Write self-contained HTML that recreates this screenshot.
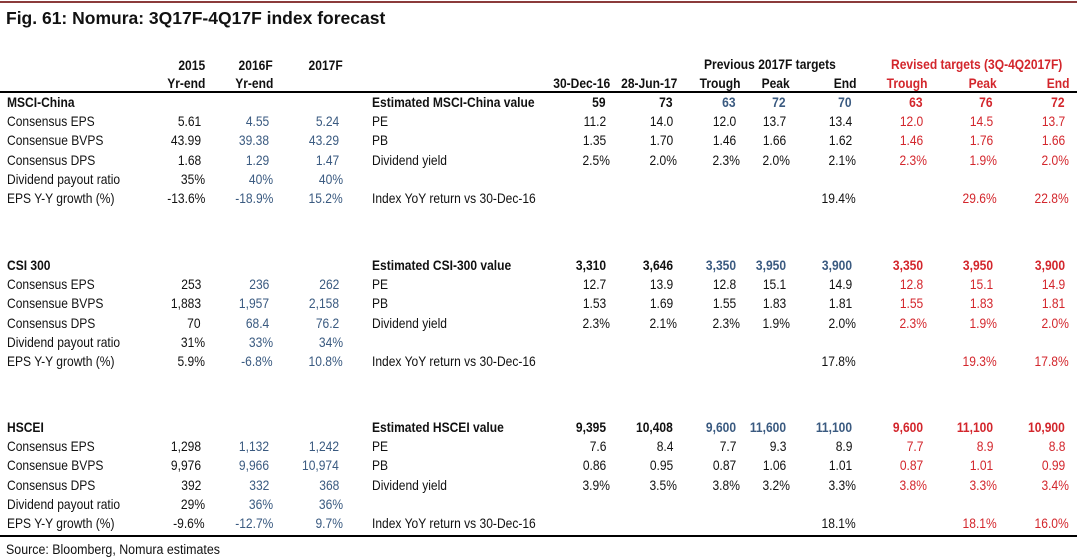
<!DOCTYPE html>
<html><head><meta charset="utf-8">
<style>
html,body{margin:0;padding:0;background:#fff;}
#root{position:relative;width:1077px;height:558px;overflow:hidden;font-family:"Liberation Sans",Arial,sans-serif;color:#111;}
.t{position:absolute;white-space:nowrap;font-size:14px;line-height:16px;transform:scaleX(0.86);}
.l{transform-origin:left center;}
.r{transform-origin:right center;}
.b{font-weight:bold;}
.blue{color:#3a5a80;}
.red{color:#d3262c;}
.hr{position:absolute;left:0;width:1077px;background:#000;}
</style></head>
<body>
<div id="root">
<div class="hr" style="top:1px;height:2px;background:#8b3b3b"></div>
<div style="position:absolute;left:6px;top:8px;font-size:17.5px;font-weight:bold;white-space:nowrap">Fig. 61: Nomura: 3Q17F-4Q17F index forecast</div>
<div class="hr" style="top:91px;height:2px"></div>
<div class="hr" style="top:535px;height:2px"></div>
<div class="t l" style="left:6px;top:542px;font-size:13.5px;transform:scaleX(0.92)">Source: Bloomberg, Nomura estimates</div>
</div>
<script>
const leftCols=[205,273,343];
const rightCols=[610,677,740,790,856,927,997,1069];
const headLeft1=["2015","2016F","2017F"];
const headLeft2=["Yr-end","Yr-end",""];
const headRight=["30-Dec-16","28-Jun-17","Trough","Peak","End","Trough","Peak","End"];
const rowLabels=["Consensus EPS","Consensue BVPS","Consensus DPS","Dividend payout ratio","EPS Y-Y growth (%)"];
const rightLabels=["PE","PB","Dividend yield","","Index YoY return vs 30-Dec-16"];
const sectionNames=["MSCI-China","CSI 300","HSCEI"];
const sectionValueLabels=["Estimated MSCI-China value","Estimated CSI-300 value","Estimated HSCEI value"];
const sectionTops=[102,265,427];
const leftData=[
 [["5.61","4.55","5.24"],["43.99","39.38","43.29"],["1.68","1.29","1.47"],["35%","40%","40%"],["-13.6%","-18.9%","15.2%"]],
 [["253","236","262"],["1,883","1,957","2,158"],["70","68.4","76.2"],["31%","33%","34%"],["5.9%","-6.8%","10.8%"]],
 [["1,298","1,132","1,242"],["9,976","9,966","10,974"],["392","332","368"],["29%","36%","36%"],["-9.6%","-12.7%","9.7%"]]
];
const rightData=[
 [["59","73","63","72","70","63","76","72"],["11.2","14.0","12.0","13.7","13.4","12.0","14.5","13.7"],["1.35","1.70","1.46","1.66","1.62","1.46","1.76","1.66"],["2.5%","2.0%","2.3%","2.0%","2.1%","2.3%","1.9%","2.0%"],["","","","",""],["","","","","19.4%","","29.6%","22.8%"]],
 [["3,310","3,646","3,350","3,950","3,900","3,350","3,950","3,900"],["12.7","13.9","12.8","15.1","14.9","12.8","15.1","14.9"],["1.53","1.69","1.55","1.83","1.81","1.55","1.83","1.81"],["2.3%","2.1%","2.3%","1.9%","2.0%","2.3%","1.9%","2.0%"],["","","","",""],["","","","","17.8%","","19.3%","17.8%"]],
 [["9,395","10,408","9,600","11,600","11,100","9,600","11,100","10,900"],["7.6","8.4","7.7","9.3","8.9","7.7","8.9","8.8"],["0.86","0.95","0.87","1.06","1.01","0.87","1.01","0.99"],["3.9%","3.5%","3.8%","3.2%","3.3%","3.8%","3.3%","3.4%"],["","","","",""],["","","","","18.1%","","18.1%","16.0%"]]
];
const rowStep=19.2;
const root=document.getElementById('root');
function txt(x,y,s,align,cls,name){
  if(s==="")return;
  const e=document.createElement('div');
  e.className='t '+(align==='r'?'r ':'l ')+(cls||'');
  if(align==='r'){e.style.right=(1077-x)+'px';}else{e.style.left=x+'px';}
  e.style.top=(y-8)+'px';
  e.textContent=s;
  
  
  root.appendChild(e);
}
function adj(x,s){return s.indexOf('%')>=0?x:x-4;}
// headers
headLeft1.forEach((h,i)=>txt(leftCols[i],65,h,'r','b','column-header-'+h.toLowerCase()));
headLeft2.forEach((h,i)=>txt(leftCols[i],83,h,'r','b','column-subheader'));
headRight.forEach((h,i)=>txt(rightCols[i],83,h,'r','b'+(i>=5?' red':''),'column-header-'+h.toLowerCase()));
txt(704,64,"Previous 2017F targets",'l','b','previous-targets-header');
txt(891,64,"Revised targets (3Q-4Q2017F)",'l','b red','revised-targets-header');
sectionNames.forEach((nm,s)=>{
  const y0=sectionTops[s];
  txt(7,y0,nm,'l','b','section-title');
  txt(372,y0,sectionValueLabels[s],'l','b','estimated-value-label');
  rowLabels.forEach((lb,r)=>{
    const y=y0+(r+1)*rowStep;
    txt(7,y,lb,'l','','row-label');
    txt(372,y,rightLabels[r],'l','','metric-label');
    leftData[s][r].forEach((v,c)=>txt(adj(leftCols[c],v),y,v,'r',c>0?'blue':'','left-value'));
  });
  rightData[s].forEach((row,r)=>{
    if(r===4)return;
    const y=r===0?y0:y0+(r<4?r:5)*rowStep;
    row.forEach((v,c)=>{
      let cls=c>=5?'red':(c>=2&&r===0?'blue':'');
      if(r===0)cls+=' b';
      txt(adj(rightCols[c],v),y,v,'r',cls,'target-value');
    });
  });
});
</script>
</body></html>
